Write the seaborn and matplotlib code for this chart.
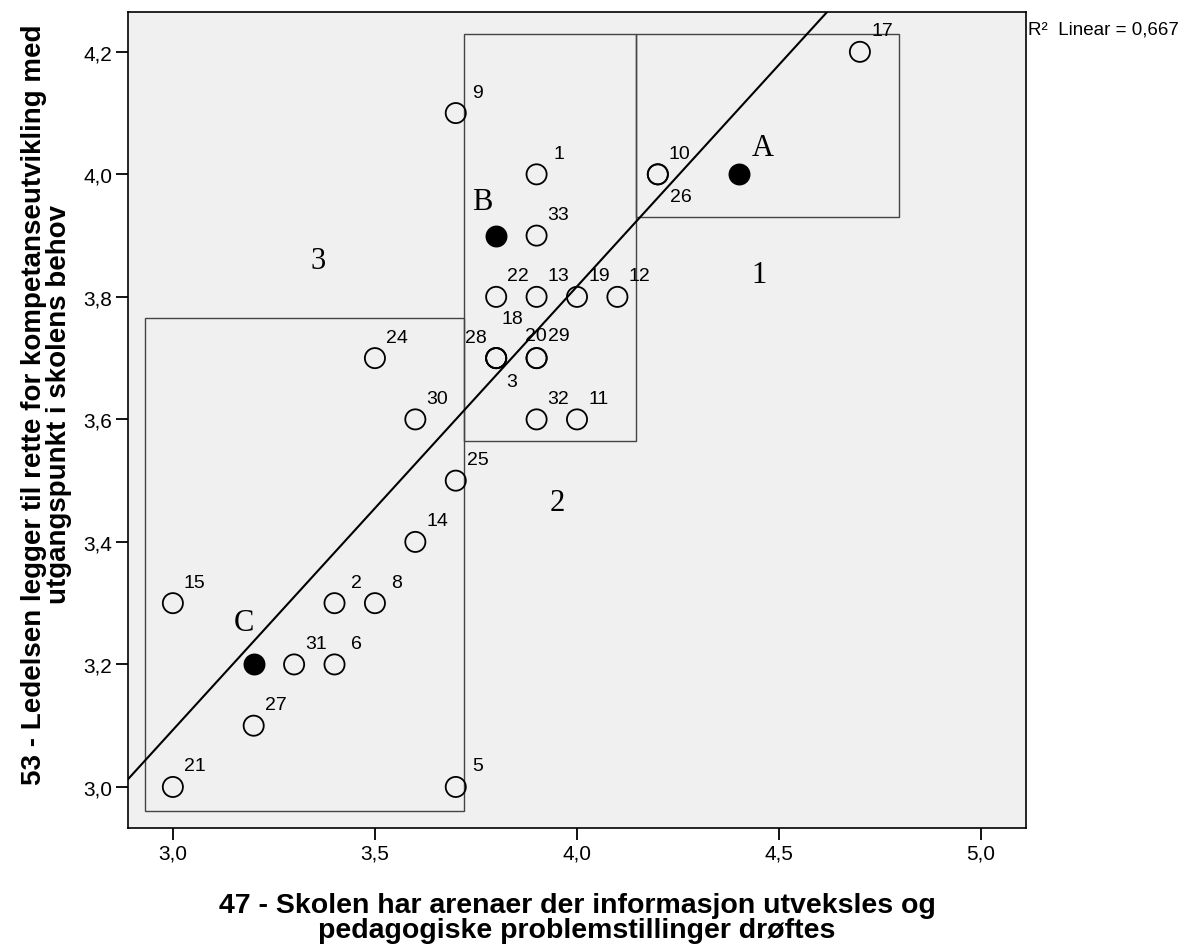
import matplotlib
matplotlib.use("Agg")
import matplotlib.pyplot as plt
import seaborn as sns
import pandas as pd
from matplotlib.patches import Rectangle
from matplotlib.ticker import FixedLocator, FuncFormatter

# ---------------- data ----------------
case_ids = [1, 2, 3, 5, 6, 8, 9, 10, 11, 12, 13, 14, 15, 17, 18, 19, 20,
            21, 22, 24, 25, 26, 27, 28, 29, 30, 31, 32, 33]
x47 = [3.9, 3.4, 3.8, 3.7, 3.4, 3.5, 3.7, 4.2, 4.0, 4.1, 3.9, 3.6, 3.0, 4.7, 3.8, 4.0, 3.9,
       3.0, 3.8, 3.5, 3.7, 4.2, 3.2, 3.8, 3.9, 3.6, 3.3, 3.9, 3.9]
y53 = [4.0, 3.3, 3.7, 3.0, 3.2, 3.3, 4.1, 4.0, 3.6, 3.8, 3.8, 3.4, 3.3, 4.2, 3.7, 3.8, 3.7,
       3.0, 3.8, 3.7, 3.5, 4.0, 3.1, 3.7, 3.7, 3.6, 3.2, 3.6, 3.9]

group_names = ["A", "B", "C"]
group_x = [4.4, 3.8, 3.2]
group_y = [4.0, 3.9, 3.2]

fit_intercept = 0.921
fit_slope = 0.724
r2_linear = 0.667

region_names = ["1", "2", "3"]
region_x0 = [4.146, 3.720, 2.931]
region_x1 = [4.797, 4.146, 3.720]
region_y0 = [3.931, 3.565, 2.961]
region_y1 = [4.229, 4.229, 3.766]
region_label_x = [4.45, 3.95, 3.36]
region_label_y = [3.836, 3.465, 3.859]
group_label_x = [4.46, 3.765, 3.176]
group_label_y = [4.043, 3.956, 3.269]

x_ticks = [3.0, 3.5, 4.0, 4.5, 5.0]
y_ticks = [3.0, 3.2, 3.4, 3.6, 3.8, 4.0, 4.2]
x_limits = [2.889, 5.111]
y_limits = [2.933, 4.265]

x_title = "47 - Skolen har arenaer der informasjon utveksles og\npedagogiske problemstillinger drøftes"
y_title = "53 - Ledelsen legger til rette for kompetanseutvikling med\nutgangspunkt i skolens behov"

# ---------------- styling ----------------
sns.set_style("ticks")
plt.rcParams["font.family"] = ["Liberation Sans", "DejaVu Sans"]
for k in ["text.color", "axes.labelcolor", "xtick.color", "ytick.color", "axes.edgecolor"]:
    plt.rcParams[k] = "black"
NARROW = ["Liberation Sans Narrow", "Liberation Sans", "DejaVu Sans"]
SERIF = ["Liberation Serif", "DejaVu Serif"]
BG = "#F0F0F0"

fig = plt.figure(figsize=(11.92, 9.45), dpi=100)
ax = fig.add_axes([128 / 1192, (945 - 829) / 945, (1026 - 128) / 1192, (829 - 13) / 945])
ax.set_facecolor(BG)
ax.set_xlim(x_limits)
ax.set_ylim(y_limits)

# region rectangles
for x0, x1, y0, y1 in zip(region_x0, region_x1, region_y0, region_y1):
    ax.add_patch(Rectangle((x0, y0), x1 - x0, y1 - y0, facecolor="none",
                           edgecolor="#444444", linewidth=1.0, zorder=1))

# regression line
line_df = pd.DataFrame({"x": x_limits})
line_df["y"] = fit_intercept + fit_slope * line_df["x"]
sns.lineplot(data=line_df, x="x", y="y", ax=ax, color="black", linewidth=1.5, zorder=2)

# points
pts = pd.DataFrame({"case": case_ids, "x": x47, "y": y53})
sns.scatterplot(data=pts, x="x", y="y", ax=ax, s=210, marker="o",
                facecolor="none", edgecolor="black", linewidth=1.3, zorder=3)
grp = pd.DataFrame({"name": group_names, "x": group_x, "y": group_y})
sns.scatterplot(data=grp, x="x", y="y", ax=ax, s=210, marker="o",
                color="black", edgecolor="black", linewidth=1.3, zorder=3)

# case labels (offsets in pixels, y downward)
default_off = (22, -21)
special_off = {26: (23, 22), 28: (-20, -21), 18: (16, -40), 3: (15, 23),
               20: (-1, -23), 29: (22, -23)}
for c, xv, yv in zip(case_ids, x47, y53):
    dx, dy = special_off.get(c, default_off)
    ax.annotate(str(c), (xv, yv), xytext=(dx * 0.72, -dy * 0.72),
                textcoords="offset points", ha="center", va="center",
                fontsize=14, color="black", zorder=4)

for n, xv, yv in zip(region_names, region_label_x, region_label_y):
    ax.text(xv, yv, n, family=SERIF, fontsize=22, ha="center", va="center",
            color="black", zorder=4)
for n, xv, yv in zip(group_names, group_label_x, group_label_y):
    ax.text(xv, yv, n, family=SERIF, fontsize=22, ha="center", va="center",
            color="black", zorder=4)

# axes formatting
ax.xaxis.set_major_locator(FixedLocator(x_ticks))
ax.yaxis.set_major_locator(FixedLocator(y_ticks))
fmt = FuncFormatter(lambda v, p: f"{v:.1f}".replace(".", ","))
ax.xaxis.set_major_formatter(fmt)
ax.yaxis.set_major_formatter(fmt)
ax.tick_params(axis="both", direction="out", length=8.5, width=1.3, color="black",
               labelcolor="black", labelsize=15, pad=3)
for lab in ax.get_xticklabels() + ax.get_yticklabels():
    lab.set_family(NARROW)
for sp in ax.spines.values():
    sp.set_visible(True)
    sp.set_color("black")
    sp.set_linewidth(1.2)

ax.set_xlabel(x_title, family=NARROW, fontsize=20.5, fontweight="bold", linespacing=0.93,
              labelpad=21, color="black")
ax.set_ylabel(y_title, family=NARROW, fontsize=20, fontweight="bold", linespacing=0.93,
              color="black")
ax.yaxis.set_label_coords(-(128 - 72) / 898, (829 - 405) / 816)

fig.text(1028 / 1192, 1 - 30 / 945, f"R²  Linear = {r2_linear:.3f}".replace(".", ","),
         fontsize=13.5, ha="left", va="center", color="black")

fig.savefig("out.png", dpi=100, facecolor="white")
